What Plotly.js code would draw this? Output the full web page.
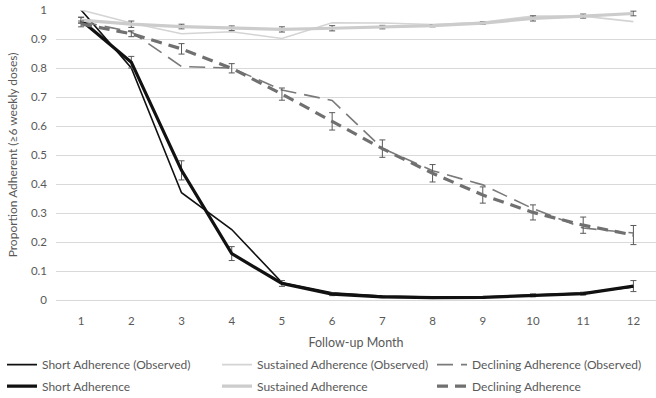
<!DOCTYPE html>
<html>
<head>
<meta charset="utf-8">
<script src="https://cdn.plot.ly/plotly-3.0.1.min.js"></script>
<style>html,body{margin:0;padding:0;background:#fff;}#chart{width:656px;height:398px;}</style>
</head>
<body>
<div id="chart"></div>
<script>
var months = [1,2,3,4,5,6,7,8,9,10,11,12];
var monthLabels = ["1","2","3","4","5","6","7","8","9","10","11","12"];

var shortObserved = [1.00, 0.80, 0.37, 0.243, 0.060, 0.025, 0.014, 0.010, 0.010, 0.018, 0.024, 0.045];
var shortModel    = [0.965, 0.82, 0.447, 0.160, 0.057, 0.020, 0.011, 0.008, 0.009, 0.016, 0.022, 0.048];
var shortErr      = [0.010, 0.020, 0.033, 0.024, 0.010, 0.005, 0.003, 0.003, 0.003, 0.005, 0.005, 0.019];

var sustainedObserved = [1.00, 0.955, 0.918, 0.925, 0.902, 0.956, 0.955, 0.950, 0.958, 0.979, 0.979, 0.960];
var sustainedModel    = [0.965, 0.951, 0.943, 0.937, 0.933, 0.937, 0.941, 0.946, 0.955, 0.971, 0.979, 0.988];
var sustainedErr      = [0.010, 0.011, 0.008, 0.008, 0.009, 0.009, 0.006, 0.004, 0.004, 0.009, 0.007, 0.008];

var decliningObserved = [0.960, 0.925, 0.805, 0.800, 0.724, 0.688, 0.523, 0.446, 0.397, 0.315, 0.248, 0.231];
var decliningModel    = [0.952, 0.918, 0.866, 0.799, 0.710, 0.616, 0.522, 0.437, 0.362, 0.302, 0.258, 0.224];
var decliningErr      = [0.010, 0.010, 0.018, 0.016, 0.021, 0.030, 0.030, 0.030, 0.028, 0.026, 0.028, 0.033];

var errStyle = function(arr){ return {type:'data', array:arr, visible:true, color:'#595959', thickness:1, width:3}; };

var traces = [
  {x:months, y:shortObserved, name:'Short Adherence (Observed)', mode:'lines',
   line:{color:'#111111', width:1.6}, legend:'legend'},
  {x:months, y:sustainedObserved, name:'Sustained Adherence (Observed)', mode:'lines',
   line:{color:'#d4d4d4', width:1.6}, legend:'legend'},
  {x:months, y:decliningObserved, name:'Declining Adherence (Observed)', mode:'lines',
   line:{color:'#7a7a7a', width:1.6, dash:'16px,8px'}, legend:'legend'},
  {x:months, y:shortModel, name:'Short Adherence', mode:'lines',
   line:{color:'#111111', width:3.2}, error_y:errStyle(shortErr), legend:'legend2'},
  {x:months, y:sustainedModel, name:'Sustained Adherence', mode:'lines',
   line:{color:'#cccccc', width:3.2}, error_y:errStyle(sustainedErr), legend:'legend2'},
  {x:months, y:decliningModel, name:'Declining Adherence', mode:'lines',
   line:{color:'#707070', width:3.2, dash:'11px,7px'}, error_y:errStyle(decliningErr), legend:'legend2'}
];

var font = "Lato, 'Open Sans', sans-serif";
var legendBase = function(y){
  return {orientation:'h', x:-0.09, xanchor:'left', y:y, yanchor:'middle',
    entrywidth:170, font:{size:12, color:'#595959'}, traceorder:'normal',
    bgcolor:'rgba(0,0,0,0)', tracegroupgap:0};
};
var layout = {
  width:656, height:398,
  margin:{l:56, r:0, t:10, b:98, autoexpand:false},
  paper_bgcolor:'#ffffff', plot_bgcolor:'#ffffff',
  font:{family:font, size:12, color:'#595959'},
  showlegend:true,
  xaxis:{
    range:[0.5, 12.45], tickmode:'array', tickvals:months, ticktext:monthLabels,
    showgrid:false, zeroline:false, showline:false, ticks:'',
    ticklabelstandoff:12, tickfont:{size:11.5, color:'#595959'},
    title:{text:'Follow-up Month', font:{size:12.5, color:'#595959'}, standoff:12},
    fixedrange:true
  },
  yaxis:{
    range:[0, 1], dtick:0.1, tick0:0, showgrid:true, gridcolor:'#d9d9d9', gridwidth:1,
    zeroline:true, zerolinecolor:'#d9d9d9', zerolinewidth:1, showline:false, ticks:'',
    ticklabelstandoff:8, tickfont:{size:11.5, color:'#595959'},
    title:{text:'Proportion Adherent (≥6 weekly doses)', font:{size:12, color:'#595959'}, standoff:10},
    fixedrange:true
  },
  legend:legendBase(-0.223),
  legend2:legendBase(-0.297)
};

Plotly.newPlot('chart', traces, layout, {staticPlot:true, displayModeBar:false});
</script>
</body>
</html>
